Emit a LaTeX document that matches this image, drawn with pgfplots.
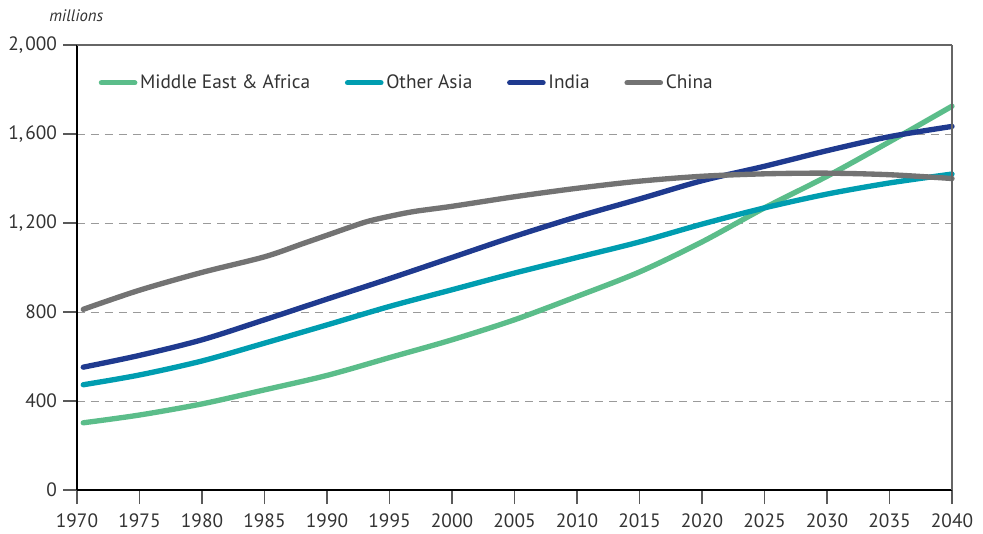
\documentclass[border=0pt]{standalone}
\usepackage{fontspec}
\setmainfont{PT Sans}
\usepackage{pgfplots}
\pgfplotsset{compat=1.18}
\definecolor{mea}{HTML}{5BBD8A}
\definecolor{oasia}{HTML}{009DB0}
\definecolor{india}{HTML}{1F3A8F}
\definecolor{china}{HTML}{737373}
\definecolor{gridc}{HTML}{9A9A9A}
\begin{document}
\begin{tikzpicture}
\begin{axis}[
  name=ax,
  scale only axis,
  width=656.25pt, height=333.75pt,
  xmin=1970, xmax=2040, ymin=0, ymax=2000,
  xtick={1970,1975,...,2040},
  ytick={0,400,800,1200,1600,2000},
  axis x line*=bottom, axis y line*=left,
  axis line style={black, line width=0.8pt, -},
  tick align=outside,
  major tick length=10.5pt,
  tick style={color=black!65, line width=0.8pt},
  ymajorgrids,
  major grid style={gridc, dashed, dash pattern=on 6pt off 4.5pt, line width=0.7pt},
  /pgf/number format/assume math mode=true,
  ticklabel style={font=\fontsize{14.5}{16}\selectfont, text=black!80},
  yticklabel style={/pgf/number format/1000 sep={,\kern1.6pt}, xshift=-1pt},
  xticklabel style={/pgf/number format/1000 sep=, yshift=-3.5pt},
  legend style={at={(0.02,0.915)}, anchor=west, draw=none, fill=none,
    font=\fontsize{14.5}{16}\selectfont, text=black!80,
    legend columns=4, /tikz/every even column/.append style={column sep=24pt}},
  legend image code/.code={\draw[#1, line cap=round] (0pt,0pt) -- (25pt,0pt);},
  every axis plot/.append style={line width=4pt, line cap=round, smooth, tension=0.5},
  clip=false,
]
\addplot[mea] coordinates {(1970.5,302) (1975,337) (1980,387) (1985,450) (1990,515) (1995,595) (2000,675) (2005,765) (2010,870) (2015,980) (2020,1115) (2025,1268) (2030,1410) (2035,1565) (2040,1725)};
\addlegendentry{Middle East \& Africa}
\addplot[oasia] coordinates {(1970.5,473) (1975,517) (1980,580) (1985,660) (1990,742) (1995,825) (2000,900) (2005,975) (2010,1045) (2015,1115) (2020,1195) (2025,1268) (2030,1330) (2035,1380) (2040,1420)};
\addlegendentry{Other Asia}
\addplot[india] coordinates {(1970.5,552) (1975,605) (1980,675) (1985,765) (1990,858) (1995,950) (2000,1045) (2005,1140) (2010,1228) (2015,1308) (2020,1390) (2025,1455) (2030,1525) (2035,1588) (2040,1634)};
\addlegendentry{India}
\addplot[china] coordinates {(1970.5,812) (1975,898) (1980,978) (1985,1048) (1988,1106) (1990,1145) (1993,1203) (1995,1230) (1997,1252) (2000,1275) (2005,1318) (2010,1356) (2015,1388) (2020,1410) (2025,1421) (2030,1424) (2035,1417) (2040,1400)};
\addlegendentry{China}
\draw[black!60, line width=0.8pt] (axis cs:1970,2000) -- (axis cs:2040,2000);
\draw[black!60, line width=0.8pt] (axis cs:2040,0) -- (axis cs:2040,2000);
\end{axis}
\node[anchor=base west, inner sep=0pt, font=\itshape\fontsize{12.5}{14}\selectfont, text=black!80] at ([xshift=-21pt, yshift=17.5pt]ax.north west) {millions};
\pgfresetboundingbox
\path ([xshift=-57.75pt, yshift=-32.25pt]ax.south west) rectangle ([xshift=23.25pt, yshift=33.75pt]ax.north east);
\end{tikzpicture}
\end{document}
